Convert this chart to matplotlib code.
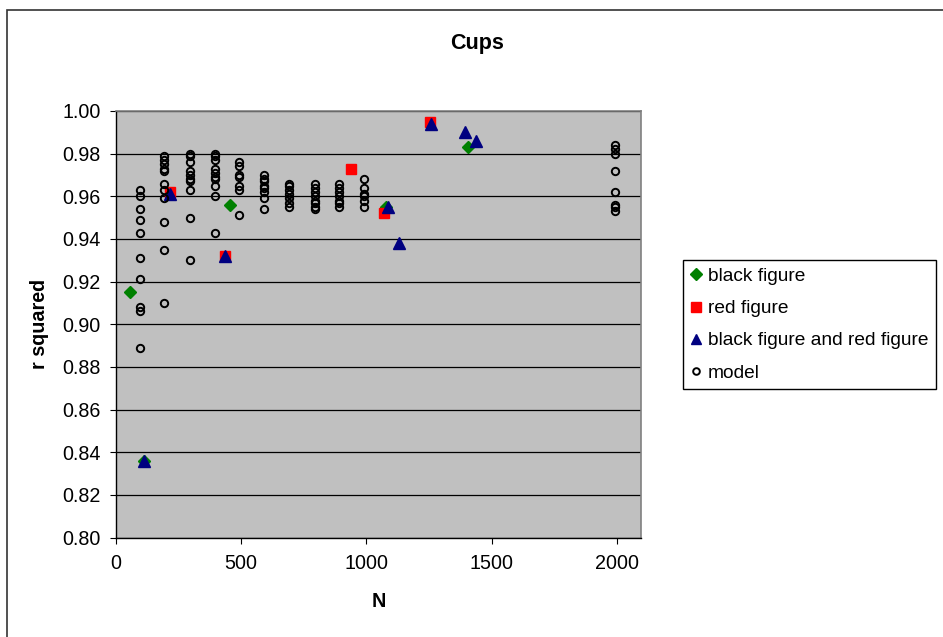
import matplotlib.pyplot as plt
from matplotlib.patches import Rectangle
from matplotlib.ticker import FormatStrFormatter

plt.rcParams["font.family"] = ["Liberation Sans", "DejaVu Sans"]

# model results, one column of r squared values per N
model_n = [95, 192, 295, 395, 493, 592, 693, 793, 891, 990, 1993]
model_r2 = [
    [0.963, 0.960, 0.954, 0.949, 0.943, 0.931, 0.921, 0.908, 0.906, 0.889],
    [0.979, 0.977, 0.975, 0.973, 0.972, 0.966, 0.963, 0.959, 0.948, 0.935, 0.910],
    [0.980, 0.979, 0.976, 0.972, 0.970, 0.968, 0.967, 0.963, 0.950, 0.930],
    [0.980, 0.979, 0.977, 0.973, 0.971, 0.969, 0.968, 0.965, 0.960, 0.943],
    [0.976, 0.974, 0.970, 0.969, 0.965, 0.963, 0.951],
    [0.970, 0.968, 0.967, 0.965, 0.964, 0.962, 0.959, 0.954],
    [0.966, 0.965, 0.963, 0.961, 0.959, 0.957, 0.955],
    [0.966, 0.964, 0.962, 0.960, 0.958, 0.957, 0.955, 0.954],
    [0.966, 0.964, 0.962, 0.960, 0.958, 0.957, 0.955],
    [0.968, 0.964, 0.961, 0.960, 0.958, 0.955],
    [0.984, 0.982, 0.980, 0.972, 0.962, 0.956, 0.955, 0.953],
]

black_n = [55, 112, 455, 1078, 1405]
black_r2 = [0.915, 0.836, 0.956, 0.955, 0.983]

red_n = [215, 434, 937, 1071, 1256]
red_r2 = [0.962, 0.932, 0.973, 0.952, 0.995]

both_n = [217, 437, 112, 1086, 1131, 1259, 1395, 1437]
both_r2 = [0.961, 0.932, 0.836, 0.955, 0.938, 0.994, 0.990, 0.986]

x_ticks = [0, 500, 1000, 1500, 2000]
y_ticks = [0.80, 0.82, 0.84, 0.86, 0.88, 0.90, 0.92, 0.94, 0.96, 0.98, 1.00]

W, H = 943, 637
fs = 14.2
fig = plt.figure(figsize=(W / 100, H / 100), dpi=100)
ax = fig.add_axes([116 / W, 1 - 537.5 / H, 525 / W, 426.5 / H])
ax.set_facecolor("#c0c0c0")

# outer chart border (runs off the right and bottom edges)
fig.patches.append(Rectangle((7.5 / W, -0.1), 1.2, 1 - 9.5 / H + 0.1,
                             transform=fig.transFigure, fill=False,
                             edgecolor="#333333", linewidth=1.2))

ax.plot(black_n, black_r2, linestyle="none", marker="D", markersize=6.5,
        color="#008000", label="black figure", zorder=3)
ax.plot(red_n, red_r2, linestyle="none", marker="s", markersize=7.5,
        color="#ff0000", label="red figure", zorder=4)
ax.plot(both_n, both_r2, linestyle="none", marker="^", markersize=8.5,
        color="#000080", label="black figure and red figure", zorder=5)

model_x = [n for n, col in zip(model_n, model_r2) for _ in col]
model_y = [v for col in model_r2 for v in col]
ax.plot(model_x, model_y, linestyle="none", marker="o", markersize=5.3,
        markerfacecolor="none", markeredgecolor="black",
        markeredgewidth=1.4, label="model", zorder=6)

ax.set_xlim(0, 2097)
ax.set_ylim(0.80, 1.00)
ax.set_xticks(x_ticks)
ax.set_yticks(y_ticks)
ax.yaxis.set_major_formatter(FormatStrFormatter("%.2f"))
ax.grid(axis="y", color="black", linewidth=0.9)
ax.set_axisbelow(True)

for side in ("top", "right"):
    ax.spines[side].set_color("#808080")
    ax.spines[side].set_linewidth(1.2)
for side in ("left", "bottom"):
    ax.spines[side].set_color("black")
    ax.spines[side].set_linewidth(1.0)

ax.tick_params(axis="y", direction="out", length=4.5, width=0.8, pad=6.5,
               labelsize=fs)
ax.tick_params(axis="x", direction="out", length=4, width=0.8, pad=8,
               labelsize=fs)

ax.set_xlabel("N", fontsize=fs, fontweight="bold")
ax.xaxis.set_label_coords(0.5, -0.128)
ax.set_ylabel("r squared", fontsize=fs, fontweight="bold")
ax.yaxis.set_label_coords(-0.127, 0.5)

ax.set_title("Cups", fontsize=15.5, fontweight="bold", x=0.688, y=1.159,
             va="center", pad=0)

leg = ax.legend(loc="upper left", bbox_to_anchor=(683 / W, 1 - 260 / H),
                bbox_transform=fig.transFigure, borderaxespad=0,
                fontsize=13.8, frameon=True, fancybox=False, framealpha=1,
                edgecolor="black", handlelength=0.6, handletextpad=0.3,
                borderpad=0.4, labelspacing=0.77, markerscale=0.9)
leg.get_frame().set_linewidth(1.0)

fig.savefig("out.png", dpi=100)
